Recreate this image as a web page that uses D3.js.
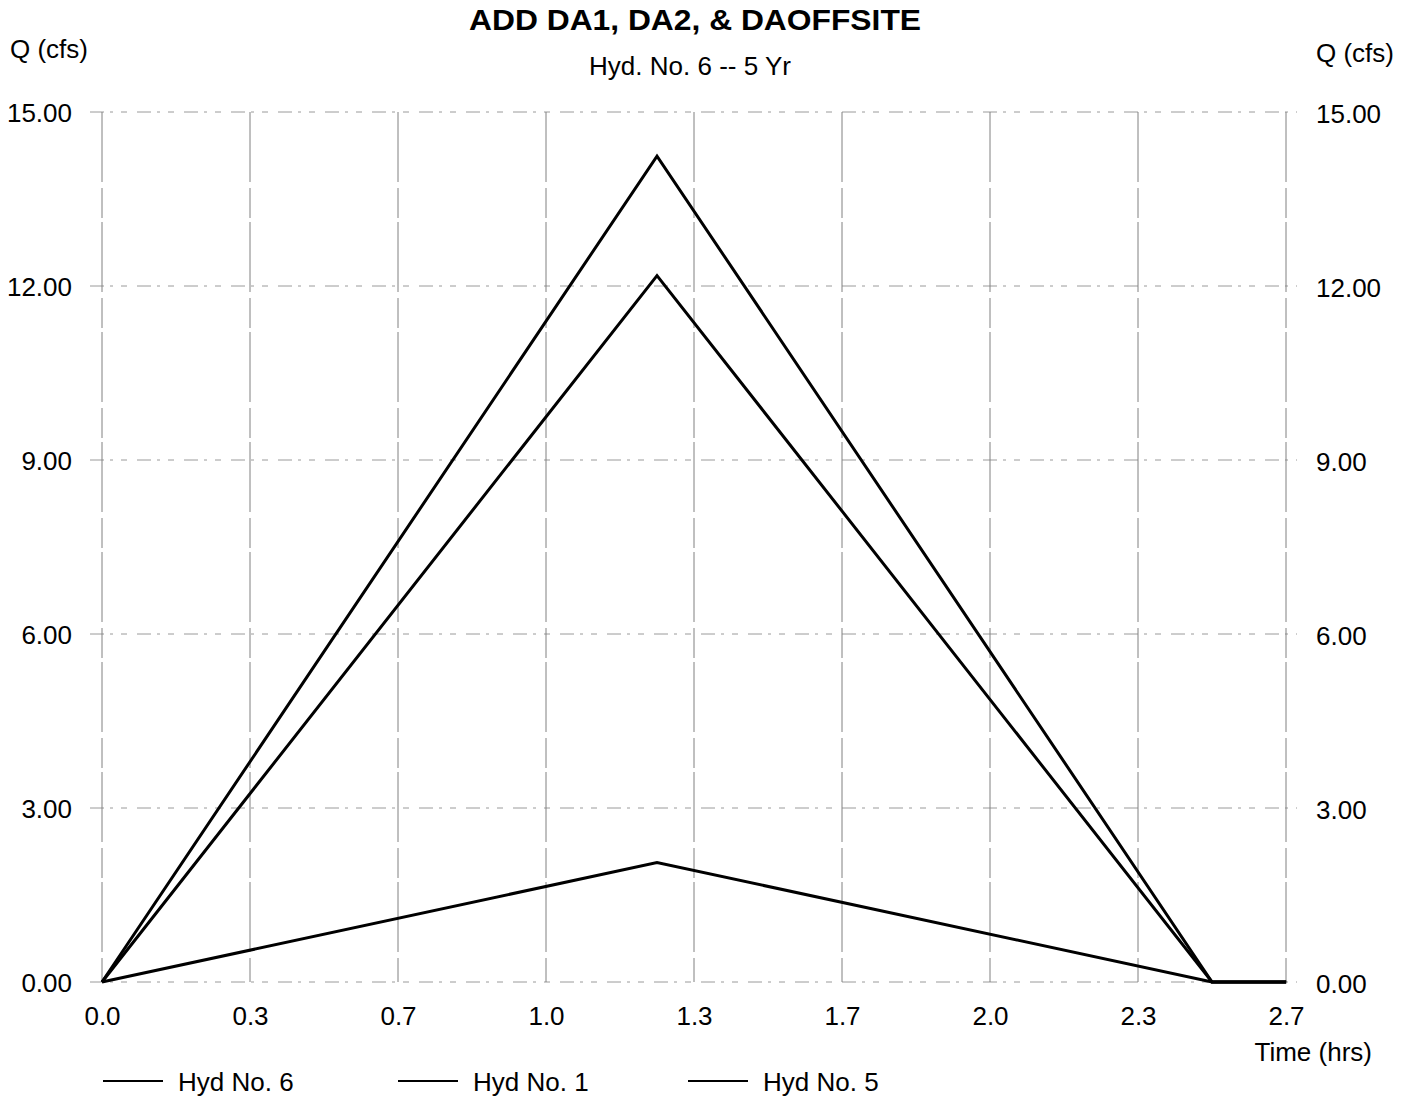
<!DOCTYPE html>
<html>
<head>
<meta charset="utf-8">
<script src="https://cdn.jsdelivr.net/npm/d3@7"></script>
<style>
  html, body { margin: 0; padding: 0; background: #fff; }
  svg { display: block; font-family: "Liberation Sans", Arial, sans-serif; }
</style>
</head>
<body>
<svg id="chart" width="1413" height="1099"></svg>
<script>
// ---- data ----
const timeHrs   = [0, 1.25, 2.5, 2.667];
const hyd6      = [0, 14.24, 0, 0];
const hyd1      = [0, 12.18, 0, 0];
const hyd5      = [0, 2.06, 0, 0];
const seriesNames = ["Hyd No. 6", "Hyd No. 1", "Hyd No. 5"];
const xTickValues = [0, 1/3, 2/3, 1, 4/3, 5/3, 2, 7/3, 8/3];
const xTickLabels = ["0.0", "0.3", "0.7", "1.0", "1.3", "1.7", "2.0", "2.3", "2.7"];
const yTickValues = [0, 3, 6, 9, 12, 15];
const titleText = "ADD DA1, DA2, & DAOFFSITE";
const subtitleText = "Hyd. No. 6 -- 5 Yr";

// ---- layout ----
const FS = 26;
const svg = d3.select("#chart");
const x = d3.scaleLinear().domain([0, 8/3]).range([102, 1286]);
const y = d3.scaleLinear().domain([0, 15]).range([982, 112]);

// grid
const grid = svg.append("g");
grid.selectAll("line.h").data(yTickValues).join("line")
  .attr("x1", x(0) - 12).attr("x2", x(8/3) + 11)
  .attr("y1", d => y(d)).attr("y2", d => y(d))
  .attr("stroke", "#9a9a9a").attr("stroke-width", 1)
  .attr("stroke-dasharray", "14,6,3,8,6,10");
grid.selectAll("line.v").data(xTickValues).join("line")
  .attr("x1", d => x(d)).attr("x2", d => x(d))
  .attr("y1", y(15)).attr("y2", y(0))
  .attr("stroke", "#808080").attr("stroke-width", 1)
  .attr("stroke-dasharray", "70,6,30,4");

// axes
const xAxis = d3.axisBottom(x).tickValues(xTickValues)
  .tickFormat((d, i) => xTickLabels[i]).tickSize(0).tickPadding(0);
const gx = svg.append("g").attr("transform", "translate(0,1025)").call(xAxis);
gx.select(".domain").remove();
gx.selectAll("text").attr("dy", 0).attr("y", 0)
  .attr("font-size", FS).attr("font-family", "Liberation Sans, Arial, sans-serif").attr("fill", "#000");

const yAxisL = d3.axisLeft(y).tickValues(yTickValues).tickFormat(d3.format(".2f")).tickSize(0).tickPadding(0);
const gyl = svg.append("g").attr("transform", "translate(72,0)").call(yAxisL);
gyl.select(".domain").remove();
gyl.selectAll("text").attr("dy", "0.36em").attr("x", 0)
  .attr("font-size", FS).attr("font-family", "Liberation Sans, Arial, sans-serif").attr("fill", "#000");

const yAxisR = d3.axisRight(y).tickValues(yTickValues).tickFormat(d3.format(".2f")).tickSize(0).tickPadding(0);
const gyr = svg.append("g").attr("transform", "translate(1316,1)").call(yAxisR);
gyr.select(".domain").remove();
gyr.selectAll("text").attr("dy", "0.36em").attr("x", 0)
  .attr("font-size", FS).attr("font-family", "Liberation Sans, Arial, sans-serif").attr("fill", "#000");

// series lines
const seriesData = [hyd6, hyd1, hyd5];
const line = d3.line().x((d, i) => x(timeHrs[i])).y(d => y(d));
svg.append("g").selectAll("path").data(seriesData).join("path")
  .attr("d", d => line(d))
  .attr("fill", "none").attr("stroke", "#000").attr("stroke-width", 3)
  .attr("stroke-linejoin", "miter");

// titles
svg.append("text").attr("x", 695).attr("y", 30).attr("text-anchor", "middle")
  .attr("font-size", 30).attr("font-weight", "bold")
  .attr("textLength", 452).attr("lengthAdjust", "spacingAndGlyphs")
  .text(titleText);
svg.append("text").attr("x", 690).attr("y", 75).attr("text-anchor", "middle")
  .attr("font-size", FS).text(subtitleText);
svg.append("text").attr("x", 10).attr("y", 58).attr("font-size", FS).text("Q (cfs)");
svg.append("text").attr("x", 1316).attr("y", 62).attr("font-size", FS).text("Q (cfs)");
svg.append("text").attr("x", 1372).attr("y", 1061).attr("text-anchor", "end")
  .attr("font-size", FS).text("Time (hrs)");

// legend
const legendX = [103, 398, 688];
const lg = svg.append("g").selectAll("g").data(seriesNames).join("g")
  .attr("transform", (d, i) => `translate(${legendX[i]},1081)`);
lg.append("line").attr("x1", 0).attr("x2", 60).attr("y1", 0).attr("y2", 0)
  .attr("stroke", "#000").attr("stroke-width", 2);
lg.append("text").attr("x", 75).attr("y", 10).attr("font-size", FS).text(d => d);
</script>
</body>
</html>
